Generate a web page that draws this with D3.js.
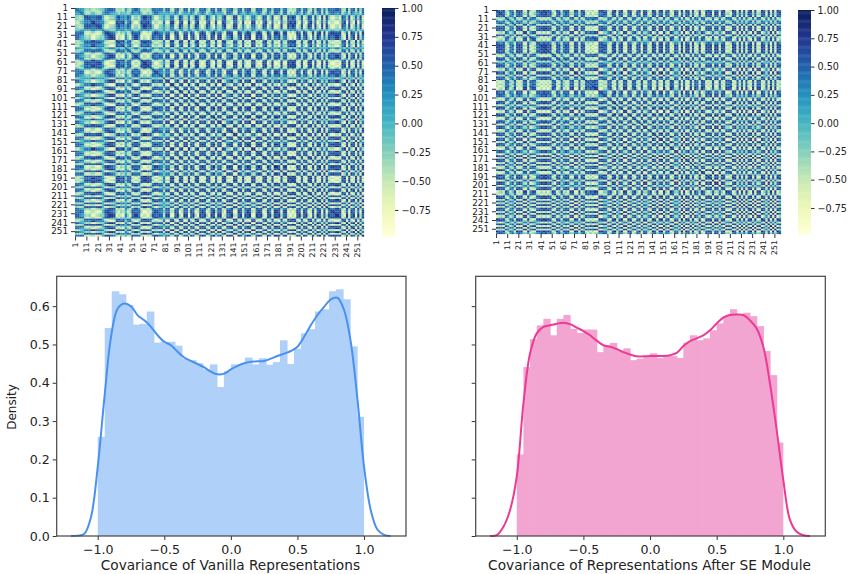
<!DOCTYPE html>
<html>
<head>
<meta charset="utf-8">
<script src="https://cdnjs.cloudflare.com/ajax/libs/d3/7.8.5/d3.min.js"></script>
<style>
  html, body { margin: 0; padding: 0; background: #fff; }
  svg { display: block; }
  text { font-family: "DejaVu Sans", sans-serif; fill: #222; }
</style>
</head>
<body>
<div id="chart"></div>
<script>
// Heatmap cells: the pictures hold 256x256 cells, too many to read one by one.
// These are band loadings estimated by eye, one per 2 rows. A cell is built from
// rowBand * colBand plus a weaker second set, so the plaid is close but not cell exact.
const bandsVanilla = [
  .6,.7,.5,.3,-.6,-.8,-.6,-.8,-.9,-.8,
  -.8,-.6,-.2,.7,.9,.9,.9,.7,-.8,-.8,
  -.6,-.9,.2,-.6,-.7,.7,.8,.8,.6,-.8,
  -.9,-.9,-.9,-.7,.6,.8,.8,.7,.5,-.5,
  .8,.8,-.8,-.9,.8,.9,-.8,-.8,.9,.8,
  -.9,.7,.8,-.8,-.9,.8,.9,.8,-.7,-.8,
  .8,.9,-.7,.8,.9,-.8,-.9,.7,.8,.9,
  -.8,-.9,.8,.8,-.8,.7,.9,.9,-.8,-.9,
  .8,.8,.9,-.8,-.9,.8,.7,-.8,.9,.8,
  .9,-.8,.7,.8,-.9,-.9,-.9,-.9,.8,.9,
  -.7,.8,.9,-.8,-.9,.8,-.8,.9,.8,-.8,
  .8,-.8,.7,.8,.9,.9,.9,.8,-.8,-.8,
  .9,-.9,.8,.8,-.9,.9,-.8,.8
];
const detailVanilla = [
  .3,.2,-.8,-.7,.6,.7,.8,-.6,-.7,.5,
  .8,.7,-.7,-.8,-.5,.6,.8,.8,-.6,.5,
  -.7,-.8,.7,.6,-.5,-.8,.7,.8,-.6,-.7,
  .8,.5,-.6,.7,.8,-.7,-.8,.6,.5,-.7,
  .8,.7,-.5,-.8,-.7,.6,.8,-.7,.7,.5,
  -.8,-.6,.7,.8,-.7,.5,-.8,.7,.8,-.6,
  .5,-.7,-.8,.8,.6,-.5,.7,-.8,-.7,.6,
  .8,.7,-.8,.5,-.6,.8,-.7,.7,-.8,-.5,
  .7,-.8,.6,.8,-.5,-.7,.8,.7,-.6,-.8,
  .6,.8,-.7,-.5,.7,-.8,.8,-.6,-.7,.8,
  .5,-.8,.7,.8,-.6,-.7,.5,.8,-.8,.6,
  -.7,.8,.7,-.6,-.8,.5,.8,-.7,.6,-.8,
  .7,.5,-.8,.7,-.6,.8,.7,-.7
];
const bandsSE = [
  .8,.9,.8,.8,-.6,-.7,.5,.6,-.7,.8,
  .9,.8,-.7,-.8,.8,-.7,-.8,-.6,.6,.8,
  .9,.9,.9,.8,.8,-.7,-.8,.8,.8,-.6,
  .5,.8,.8,-.7,-.8,.8,.8,-.7,.8,.7,
  -.8,-.8,-.7,-.8,-.9,-.8,.8,.8,.7,.7,
  -.8,-.8,.8,.9,-.8,.7,.9,-.8,-.9,.8,
  .9,-.8,-.8,.7,.8,-.9,.8,.8,-.7,-.8,
  .9,.8,-.8,.8,.9,-.9,.7,.8,-.9,-.8,
  .8,.7,-.9,.9,-.8,.9,.9,-.8,.8,-.8,
  -.7,.9,-.9,-.8,.9,.8,.8,-.9,.9,.9,
  -.8,.8,.9,-.8,-.7,-.8,.9,.9,-.8,.8,
  -.7,.9,-.8,.8,.9,-.8,.9,-.8,-.7,.9,
  .8,-.8,.9,-.9,.8,-.8,.9,.7
];
const detailSE = [
  -.7,.6,.8,-.5,.7,-.8,-.7,.8,.6,-.8,
  .5,-.7,.8,.7,-.6,-.8,.5,.8,-.7,-.6,
  .8,-.5,.7,-.8,.6,.8,-.7,-.6,.8,.7,
  -.8,.6,-.5,.8,.7,-.8,-.6,.7,-.7,.8,
  .5,-.8,.8,-.6,.7,.8,-.5,-.8,.7,.6,
  -.7,.8,.6,-.8,-.5,.7,-.8,.8,.5,-.7,
  .8,-.6,.7,.8,-.8,-.5,.6,.8,-.7,.7,
  -.8,.5,.8,-.6,-.7,.8,.6,-.8,.7,-.5,
  .8,.7,-.6,-.8,.8,-.7,.5,.6,-.8,.7,
  -.6,.8,.5,-.7,.8,-.8,.7,-.6,.8,.5,
  -.8,.7,-.6,.8,.7,-.5,-.8,.6,.7,-.8,
  .8,-.5,.7,.6,-.8,.8,-.7,.5,.8,-.6,
  .7,-.8,.5,.8,-.7,.6,-.8,.7
];
const heatTicks = [1,11,21,31,41,51,61,71,81,91,101,111,121,131,141,151,161,171,181,191,201,211,221,231,241,251];
const colorbarTicks = [1, .75, .5, .25, 0, -.25, -.5, -.75];

// histogram bar heights, left to right between -1 and 1
const histVanilla = [
  .259,.543,.639,.631,.603,.552,.554,.586,.505,.507,
  .507,.497,.463,.459,.451,.435,.448,.389,.430,.448,
  .448,.466,.448,.464,.447,.454,.511,.449,.489,.529,
  .540,.586,.592,.639,.644,.618,.495,.311
];
const histSE = [
  .213,.441,.514,.550,.567,.524,.567,.577,.541,.530,
  .539,.539,.480,.498,.504,.485,.490,.459,.463,.470,
  .477,.465,.470,.470,.465,.505,.524,.511,.516,.537,
  .555,.574,.592,.577,.583,.574,.548,.483,.420,.244
];

// KDE curves, sampled every 0.05 from -1.2 to 1.2
const kdeX = d3.range(49).map(i => -1.2 + i * .05);
const kdeVanilla = [
  0,.001,.006,.05,.18,.36,.52,.594,.607,.60,
  .576,.563,.546,.524,.507,.498,.481,.466,.457,.449,
  .44,.429,.422,.424,.435,.444,.451,.455,.456,.457,
  .463,.47,.476,.483,.494,.52,.55,.577,.598,.618,
  .622,.59,.507,.359,.181,.068,.017,.003,0
];
const kdeSE = [
  0,.002,.024,.068,.155,.346,.477,.529,.546,.55,
  .554,.557,.553,.544,.535,.524,.51,.498,.494,.488,
  .48,.474,.469,.469,.47,.47,.47,.472,.478,.496,
  .509,.516,.524,.537,.555,.57,.577,.578,.577,.563,
  .542,.494,.398,.277,.146,.042,.011,.002,0
];
const xTicks = [-1, -.5, 0, .5, 1];
const yTicks = [0, .1, .2, .3, .4, .5, .6];

const svg = d3.select('#chart').append('svg')
    .attr('width', 850)
    .attr('height', 574);

const defs = svg.append('defs');
defs.append('filter').attr('id', 'soft')
    .attr('x', '-2%').attr('y', '-2%').attr('width', '104%').attr('height', '104%')
    .append('feGaussianBlur').attr('stdDeviation', 0.6);

const color = d3.scaleSequential(d3.interpolateYlGnBu).domain([-0.98, 1]);

function drawHeatmap(bands, detail, box, cbar) {
    const rows = d3.range(1, 257);
    const x = d3.scaleBand().domain(rows).range([box.left, box.right]);
    const y = d3.scaleBand().domain(rows).range([box.top, box.bottom]);

    const cells = [];
    bands.forEach((r, i) => bands.forEach((c, j) => {
        const v = .8 * r * c + .3 * detail[i] * detail[j] + .04;
        cells.push({ col: j * 2 + 1, row: i * 2 + 1, value: Math.max(-.98, Math.min(1, v)) });
    }));

    const heat = svg.append('g').attr('filter', 'url(#soft)');
    heat.selectAll('rect')
        .data(cells)
        .join('rect')
        .attr('x', d => x(d.col))
        .attr('y', d => y(d.row))
        .attr('width', x.bandwidth() * 2 + .1)
        .attr('height', y.bandwidth() * 2 + .1)
        .attr('fill', d => color(d.value));

    // the diagonal of ones shows as a faint thin line
    heat.append('line')
        .attr('x1', x(1)).attr('y1', y(1))
        .attr('x2', x(256) + x.bandwidth()).attr('y2', y(256) + y.bandwidth())
        .attr('stroke', color(1))
        .attr('stroke-opacity', .4)
        .attr('stroke-width', 1);

    const left = svg.append('g')
        .attr('transform', `translate(${box.left},0)`)
        .call(d3.axisLeft(y).tickValues(heatTicks).tickSize(4).tickSizeOuter(0));
    left.select('.domain').remove();
    left.selectAll('text').attr('font-size', 8.8);
    left.selectAll('line').attr('stroke', '#333');

    const bottom = svg.append('g')
        .attr('transform', `translate(0,${box.bottom})`)
        .call(d3.axisBottom(x).tickValues(heatTicks).tickSize(4).tickSizeOuter(0));
    bottom.select('.domain').remove();
    bottom.selectAll('line').attr('stroke', '#333');
    bottom.selectAll('text')
        .attr('font-size', 7.8)
        .attr('text-anchor', 'end')
        .attr('transform', 'rotate(-90)')
        .attr('x', -6)
        .attr('y', 0)
        .attr('dy', '.32em');

    // colorbar
    const cy = d3.scaleLinear().domain([-0.98, 1]).range([box.bottom, box.top]);
    svg.append('g')
        .selectAll('rect')
        .data(d3.range(-0.98, 1, .01))
        .join('rect')
        .attr('x', cbar.left)
        .attr('y', d => cy(d + .01))
        .attr('width', cbar.right - cbar.left)
        .attr('height', Math.abs(cy(0) - cy(.01)) + .4)
        .attr('fill', d => color(d));

    const right = svg.append('g')
        .attr('transform', `translate(${cbar.right},0)`)
        .call(d3.axisRight(cy).tickValues(colorbarTicks).tickSize(3.5).tickSizeOuter(0)
            .tickFormat(d3.format('.2f')));
    right.select('.domain').remove();
    right.selectAll('text').attr('font-size', 9.6);
    right.selectAll('line').attr('stroke', '#333');
}

function drawDensity(hist, kde, box, cols, label, showY) {
    const x = d3.scaleLinear().domain([box.x0, box.x1]).range([box.left, box.right]);
    const y = d3.scaleLinear().domain([0, .678]).range([box.bottom, box.top]);
    const step = 2 / hist.length;

    svg.append('g').selectAll('rect')
        .data(hist)
        .join('rect')
        .attr('x', (d, i) => x(-1 + i * step))
        .attr('y', d => y(d))
        .attr('width', (d, i) => x(step) - x(0) + (i < hist.length - 1 ? .6 : 0))
        .attr('height', d => y(0) - y(d))
        .attr('fill', cols.bar);

    const line = d3.line()
        .x((d, i) => x(kdeX[i]))
        .y(d => y(d))
        .curve(d3.curveCatmullRom);
    svg.append('path')
        .datum(kde)
        .attr('d', line)
        .attr('fill', 'none')
        .attr('stroke', cols.line)
        .attr('stroke-width', 2);

    const bottom = svg.append('g')
        .attr('transform', `translate(0,${box.bottom})`)
        .call(d3.axisBottom(x).tickValues(xTicks).tickSize(4).tickSizeOuter(0)
            .tickFormat(d => d3.format('.1f')(d).replace('-', '\u2212')));
    bottom.selectAll('text').attr('font-size', 12.6).attr('dy', '.85em');
    bottom.selectAll('line').attr('stroke', '#333');

    const left = svg.append('g')
        .attr('transform', `translate(${box.left},0)`)
        .call(d3.axisLeft(y).tickValues(yTicks).tickSize(4).tickSizeOuter(0)
            .tickFormat(showY ? d3.format('.1f') : ''));
    left.selectAll('text').attr('font-size', 12.6);
    left.selectAll('line').attr('stroke', '#333');

    svg.selectAll('.domain').remove();
    svg.append('rect')
        .attr('x', box.left)
        .attr('y', box.top)
        .attr('width', box.right - box.left)
        .attr('height', box.bottom - box.top)
        .attr('fill', 'none')
        .attr('stroke', '#444')
        .attr('stroke-width', 1.2);

    svg.append('text')
        .attr('x', x(0) - .5)
        .attr('y', 570)
        .attr('text-anchor', 'middle')
        .attr('font-size', 13.7)
        .text(label);
}

drawHeatmap(bandsVanilla, detailVanilla,
    { left: 75, right: 364, top: 8, bottom: 236.5 },
    { left: 382, right: 395 });
drawHeatmap(bandsSE, detailSE,
    { left: 496, right: 781, top: 10, bottom: 234 },
    { left: 798, right: 811 });

drawDensity(histVanilla, kdeVanilla,
    { left: 56.7, right: 406, top: 276.3, bottom: 536, x0: -1.308, x1: 1.315 },
    { bar: '#aed0f9', line: '#4a90f0' },
    'Covariance of Vanilla Representations', true);
drawDensity(histSE, kdeSE,
    { left: 475.7, right: 825.3, top: 276.3, bottom: 536, x0: -1.308, x1: 1.315 },
    { bar: '#f2a5d0', line: '#ec3a95' },
    'Covariance of Representations After SE Module', false);

svg.append('text')
    .attr('transform', 'translate(16,407) rotate(-90)')
    .attr('text-anchor', 'middle')
    .attr('font-size', 12)
    .attr('font-family', '"Liberation Sans", sans-serif')
    .text('Density');
</script>
</body>
</html>
